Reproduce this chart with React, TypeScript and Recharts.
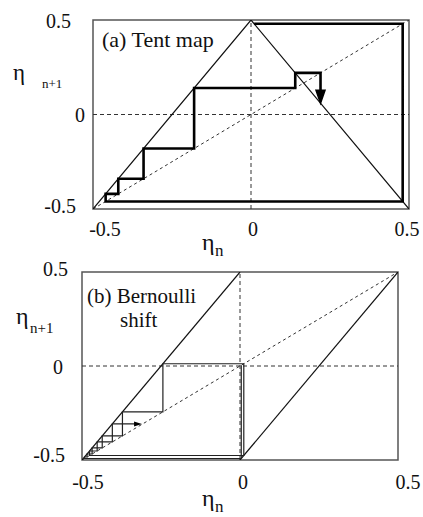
import {
  ComposedChart,
  Line,
  Scatter,
  XAxis,
  YAxis,
  ReferenceLine,
  ReferenceArea,
} from 'recharts'

// 共通の目盛り
const AXIS_TICKS = [-0.5, 0, 0.5]

// (a) テント写像: 曲線と対角線
const tentCurve = [
  { x: -0.5, y: -0.5 },
  { x: 0, y: 0.5 },
  { x: 0.5, y: -0.5 },
]
const diagonal = [
  { x: -0.5, y: -0.5 },
  { x: 0.5, y: 0.5 },
]

// (a) 軌道（cobweb）の角の点。図から読み取った値
const tentOrbit = [
  { x: 0.01, y: 0.48 },
  { x: 0.48, y: 0.48 },
  { x: 0.48, y: -0.46 },
  { x: -0.46, y: -0.46 },
  { x: -0.46, y: -0.42 },
  { x: -0.42, y: -0.42 },
  { x: -0.42, y: -0.34 },
  { x: -0.34, y: -0.34 },
  { x: -0.34, y: -0.18 },
  { x: -0.18, y: -0.18 },
  { x: -0.18, y: 0.14 },
  { x: 0.14, y: 0.14 },
  { x: 0.14, y: 0.22 },
  { x: 0.22, y: 0.22 },
  { x: 0.22, y: 0.08 },
]
const tentArrow = [{ x: 0.22, y: 0.06 }]

// (b) ベルヌーイシフト: 2本の枝
const bernoulliLeft = [
  { x: -0.5, y: -0.5 },
  { x: 0, y: 0.5 },
]
const bernoulliRight = [
  { x: 0, y: -0.5 },
  { x: 0.5, y: 0.5 },
]

// (b) 軌道の角の点
const bernoulliOrbit = [
  { x: 0.004, y: 0.004 },
  { x: 0.004, y: -0.492 },
  { x: -0.492, y: -0.492 },
  { x: -0.492, y: -0.484 },
  { x: -0.484, y: -0.484 },
  { x: -0.484, y: -0.468 },
  { x: -0.468, y: -0.468 },
  { x: -0.468, y: -0.436 },
  { x: -0.436, y: -0.436 },
  { x: -0.436, y: -0.372 },
  { x: -0.372, y: -0.372 },
  { x: -0.372, y: -0.244 },
  { x: -0.244, y: -0.244 },
  { x: -0.244, y: 0.012 },
  { x: 0.012, y: 0.012 },
  { x: 0.012, y: -0.476 },
  { x: -0.476, y: -0.476 },
  { x: -0.476, y: -0.452 },
  { x: -0.452, y: -0.452 },
  { x: -0.452, y: -0.404 },
  { x: -0.404, y: -0.404 },
  { x: -0.404, y: -0.308 },
  { x: -0.325, y: -0.308 },
]
const bernoulliArrow = [{ x: -0.31, y: -0.308 }]

const FONT = "'Liberation Serif', 'Times New Roman', Tinos, 'DejaVu Serif', 'Noto Serif', serif"
const INK = '#111'

const fmt = (v: number) => (v === 0 ? '0' : String(v))

const makeXTick = (shift: Record<string, number>) => (props: any) => {
  const { x, y, payload } = props
  const v = payload.value as number
  return (
    <text
      x={x + (shift[String(v)] ?? 0)}
      y={y}
      dy="0.71em"
      textAnchor="middle"
      fontFamily={FONT}
      fontSize={20}
      fill={INK}
    >
      {fmt(v)}
    </text>
  )
}

const makeYTick = (gap: Record<string, number>, dyPx: Record<string, number>) => (props: any) => {
  const { x, y, payload } = props
  const v = payload.value as number
  return (
    <text
      x={x - (gap[String(v)] ?? 10)}
      y={y + (dyPx[String(v)] ?? 0)}
      dy="0.35em"
      textAnchor="end"
      fontFamily={FONT}
      fontSize={20}
      fill={INK}
    >
      {fmt(v)}
    </text>
  )
}

const DownArrow = (props: any) => {
  const { cx, cy } = props
  return (
    <path
      d={`M${cx - 4.5},${cy - 13} L${cx},${cy} L${cx + 4.5},${cy - 13} Z`}
      fill="#000"
      stroke="#000"
      strokeWidth={1.5}
    />
  )
}

const RightArrow = (props: any) => {
  const { cx, cy } = props
  return <path d={`M${cx},${cy} L${cx - 8},${cy - 2.5} L${cx - 8},${cy + 2.5} Z`} fill="#000" />
}

const frameProps = {
  x1: -0.5,
  x2: 0.5,
  y1: -0.5,
  y2: 0.5,
  fill: 'none',
  fillOpacity: 0,
  stroke: '#555',
  strokeWidth: 1.5,
  ifOverflow: 'visible' as const,
}

function TentPanel() {
  return (
    <ComposedChart width={423} height={262} margin={{ top: 20, right: 14, bottom: 23, left: 0 }}>
      <XAxis
        type="number"
        dataKey="x"
        domain={[-0.5, 0.5]}
        ticks={AXIS_TICKS}
        allowDataOverflow
        axisLine={false}
        tickLine={false}
        tickSize={0}
        tickMargin={13}
        height={30}
        tick={makeXTick({ '-0.5': 12, '0': 2, '0.5': -2 })}
      />
      <YAxis
        type="number"
        dataKey="y"
        domain={[-0.5, 0.5]}
        ticks={AXIS_TICKS}
        allowDataOverflow
        axisLine={false}
        tickLine={false}
        tickSize={0}
        tickMargin={0}
        width={93}
        tick={makeYTick({ '0.5': 22, '0': 8, '-0.5': 17 }, { '0.5': 1, '0': 0, '-0.5': -3 })}
      />
      <ReferenceArea {...frameProps} />
      <ReferenceLine x={0} stroke="#333" strokeWidth={1} strokeDasharray="4 3" />
      <ReferenceLine y={0} stroke="#333" strokeWidth={1} strokeDasharray="4 3" />
      <Line
        data={diagonal}
        dataKey="y"
        type="linear"
        stroke="#333"
        strokeWidth={1}
        strokeDasharray="3 3"
        dot={false}
        activeDot={false}
        isAnimationActive={false}
      />
      <Line
        data={tentCurve}
        dataKey="y"
        type="linear"
        stroke="#111"
        strokeWidth={1.2}
        dot={false}
        activeDot={false}
        isAnimationActive={false}
      />
      <Line
        data={tentOrbit}
        dataKey="y"
        type="linear"
        stroke="#000"
        strokeWidth={2.6}
        strokeLinejoin="miter"
        dot={false}
        activeDot={false}
        isAnimationActive={false}
      />
      <Scatter data={tentArrow} dataKey="y" shape={DownArrow} isAnimationActive={false} />
    </ComposedChart>
  )
}

function BernoulliPanel() {
  return (
    <ComposedChart width={423} height={267} margin={{ top: 22, right: 25, bottom: 27, left: 0 }}>
      <XAxis
        type="number"
        dataKey="x"
        domain={[-0.5, 0.5]}
        ticks={AXIS_TICKS}
        allowDataOverflow
        axisLine={false}
        tickLine={false}
        tickSize={0}
        tickMargin={15}
        height={30}
        tick={makeXTick({ '-0.5': 6, '0': 3, '0.5': 10 })}
      />
      <YAxis
        type="number"
        dataKey="y"
        domain={[-0.5, 0.5]}
        ticks={AXIS_TICKS}
        allowDataOverflow
        axisLine={false}
        tickLine={false}
        tickSize={0}
        tickMargin={0}
        width={82}
        tick={makeYTick({ '0.5': 14, '0': 19, '-0.5': 17 }, { '0.5': -3, '0': 1, '-0.5': -5 })}
      />
      <ReferenceArea {...frameProps} />
      <ReferenceLine x={0} stroke="#333" strokeWidth={1} strokeDasharray="4 3" />
      <ReferenceLine y={0} stroke="#333" strokeWidth={1} strokeDasharray="4 3" />
      <Line
        data={diagonal}
        dataKey="y"
        type="linear"
        stroke="#333"
        strokeWidth={1}
        strokeDasharray="3 3"
        dot={false}
        activeDot={false}
        isAnimationActive={false}
      />
      <Line
        data={bernoulliLeft}
        dataKey="y"
        type="linear"
        stroke="#111"
        strokeWidth={1.2}
        dot={false}
        activeDot={false}
        isAnimationActive={false}
      />
      <Line
        data={bernoulliRight}
        dataKey="y"
        type="linear"
        stroke="#111"
        strokeWidth={1.2}
        dot={false}
        activeDot={false}
        isAnimationActive={false}
      />
      <Line
        data={bernoulliOrbit}
        dataKey="y"
        type="linear"
        stroke="#222"
        strokeWidth={1.2}
        dot={false}
        activeDot={false}
        isAnimationActive={false}
      />
      <Scatter data={bernoulliArrow} dataKey="y" shape={RightArrow} isAnimationActive={false} />
    </ComposedChart>
  )
}

// 軸タイトルとパネル見出し（添字付きなので SVG の text で重ねる）
function Labels() {
  const t = (size: number) => ({ fontFamily: FONT, fontSize: size, fill: INK })
  return (
    <svg
      width={423}
      height={517}
      style={{ position: 'absolute', left: 0, top: 0, pointerEvents: 'none' }}
    >
      <text x={102} y={47} {...t(22)}>(a) Tent map</text>
      <text x={13} y={80} {...t(23)}>η</text>
      <text x={42} y={88} {...t(13)}>n+1</text>
      <text x={202} y={250} {...t(24)}>η</text>
      <text x={215} y={256} {...t(17)}>n</text>

      <text x={87} y={303} {...t(21)}>(b) Bernoulli</text>
      <text x={120} y={327} {...t(21)}>shift</text>
      <text x={16} y={324} {...t(24)}>η</text>
      <text x={30} y={333} {...t(15)}>n+1</text>
      <text x={202} y={506} {...t(24)}>η</text>
      <text x={215} y={512} {...t(17)}>n</text>
    </svg>
  )
}

export default function App() {
  return (
    <div
      style={{
        position: 'absolute',
        left: 0,
        top: 0,
        width: 423,
        height: 517,
        background: '#fff',
        overflow: 'hidden',
        fontFamily: FONT,
      }}
    >
      <div style={{ position: 'absolute', left: 0, top: 0 }}>
        <TentPanel />
      </div>
      <div style={{ position: 'absolute', left: 0, top: 250 }}>
        <BernoulliPanel />
      </div>
      <Labels />
    </div>
  )
}
